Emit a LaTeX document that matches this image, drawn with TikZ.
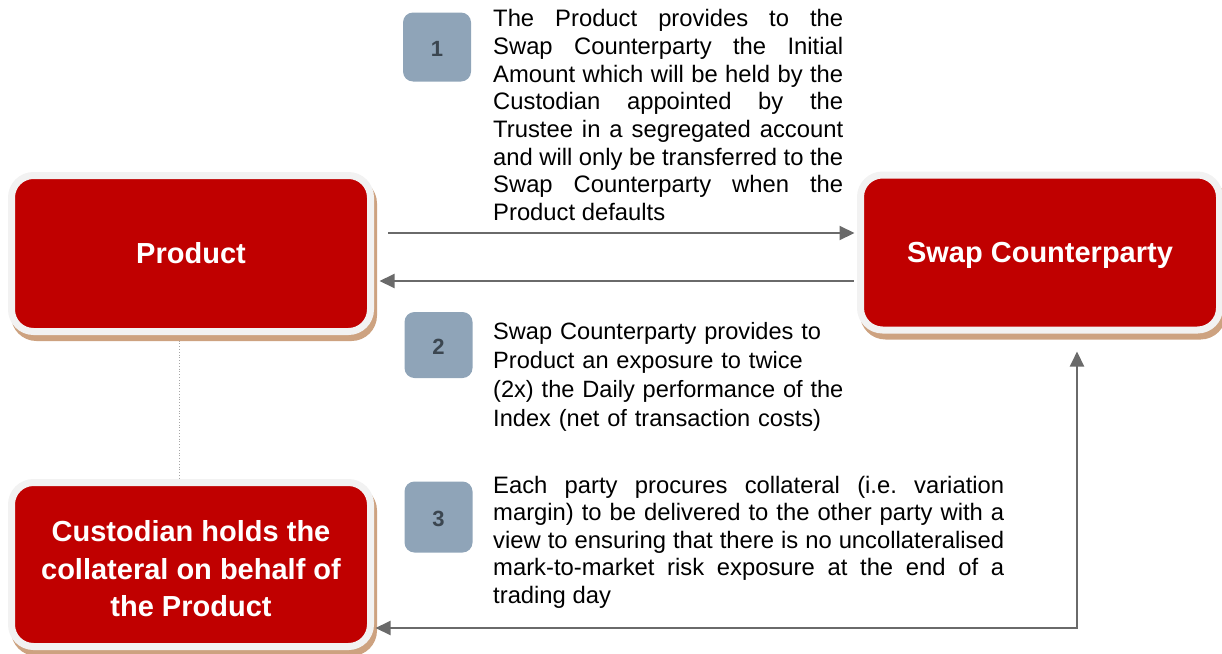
\documentclass[tikz,border=0pt]{standalone}
\usepackage{fontspec}
\setmainfont{Liberation Sans}
\usetikzlibrary{arrows.meta,positioning,shapes,calc}
\pgfdeclarelayer{bg}
\pgfsetlayers{bg,main}
\frenchspacing

\definecolor{boxred}{HTML}{C00000}
\definecolor{rimgray}{HTML}{F2F2F2}
\definecolor{shadetan}{HTML}{CDA280}
\definecolor{numblue}{HTML}{8FA4B8}
\definecolor{numtext}{HTML}{3B4650}
\definecolor{flowgray}{HTML}{6A6A6A}

\tikzset{
  party/.style={rectangle, rounded corners=22pt, fill=boxred, draw=rimgray, line width=7pt,
    text=white, inner sep=0pt, align=center, minimum width=359pt,
    font=\bfseries\fontsize{29}{37.5}\selectfont,
    preaction={draw=shadetan, fill=shadetan, line width=7pt, transform canvas={xshift=3pt,yshift=-6pt}}},
  numbox/.style={rectangle, rounded corners=10pt, fill=numblue, text=numtext, inner sep=0pt,
    minimum width=68pt, font=\bfseries\fontsize{22}{26}\selectfont},
  note/.style={anchor=base west, inner sep=0pt, font=\fontsize{23.8}{27.6}\selectfont},
  flow/.style={draw=flowgray, line width=2pt, -{Triangle[length=15pt,width=14pt]}},
}

\begin{document}
\begin{tikzpicture}[x = 1pt, y = -1pt]
\useasboundingbox (0,0) rectangle (1222,653);

% parties
\node[party, minimum height=156pt] (prod) at (191, 253.5) {Product};
\node[party, minimum height=155pt] (swap) at (1040, 252.5) {\rule{0pt}{27pt}Swap Counterparty};
\node[party, minimum height=164pt] (cust) at (191, 564.5)
  {\rule{0pt}{30pt}Custodian holds the\\collateral on behalf of\\the Product};

% steps
\node[numbox, minimum height=69pt] (n1) at (437, 47) {\rule{0pt}{19pt}1};
\node[numbox, minimum height=66pt] (n2) at (438.5, 345) {\rule{0pt}{19pt}2};
\node[numbox, minimum height=71pt] (n3) at (438.5, 517) {\rule{0pt}{19pt}3};

\node[note, text width=350pt, align=justify] (t1) at (493, 27)
  {The Product provides to the\linebreak
   Swap Counterparty the Initial\linebreak
   Amount which will be held by the\linebreak
   Custodian appointed by the\linebreak
   Trustee in a segregated account\linebreak
   and will only be transferred to the\linebreak
   Swap Counterparty when the\linebreak
   Product defaults};
\node[note, text width=360pt, align=left, font=\fontsize{23.6}{29}\selectfont] (t2) at (493, 339)
  {Swap Counterparty provides to\\
   Product an exposure to twice\\
   (2x) the Daily performance of the\\
   Index (net of transaction costs)};
\node[note, text width=511pt, align=justify] (t3) at (493, 493)
  {Each party procures collateral (i.e. variation\linebreak
   margin) to be delivered to the other party with a\linebreak
   view to ensuring that there is no uncollateralised\linebreak
   mark-to-market risk exposure at the end of a\linebreak
   trading day};

% flows
\draw[flow, shorten <=14pt, shorten >=2.5pt] ([yshift=20.5pt]prod.east) -- ([yshift=20.5pt]prod.east -| swap.west);
\draw[flow, shorten <=3.5pt, shorten >=5.5pt] ([yshift=-27.5pt]prod.east -| swap.west) -- ([yshift=-27.5pt]prod.east);
\draw[flow, {Triangle[length=15pt,width=14pt]}-{Triangle[length=15pt,width=14pt]}, shorten <=1.5pt, shorten >=18pt]
  ([yshift=-63.5pt]cust.east) -| ([xshift=37pt]swap.south);

\begin{pgfonlayer}{bg}
\draw[gray!70, dotted, line width=0.8pt] ([xshift=-12pt]prod.south) -- ([xshift=-12pt]cust.north);
\end{pgfonlayer}

\end{tikzpicture}
\end{document}
